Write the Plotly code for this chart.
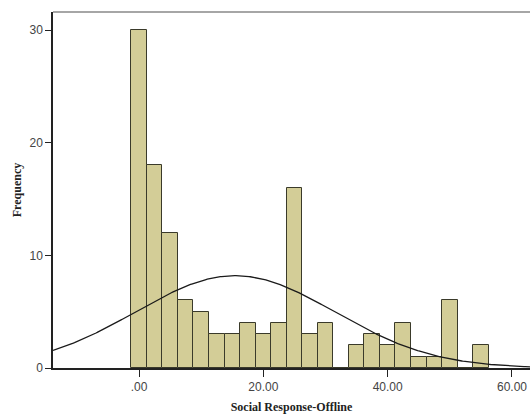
import numpy as np
import plotly.graph_objects as go

# Histogram bins (centers) and frequencies
bin_centers = [0, 2.5, 5, 7.5, 10, 12.5, 15, 17.5, 20, 22.5, 25, 27.5, 30,
               32.5, 35, 37.5, 40, 42.5, 45, 47.5, 50, 52.5, 55]
frequencies = [30, 18, 12, 6, 5, 3, 3, 4, 3, 4, 16, 3, 4,
               0, 2, 3, 2, 4, 1, 1, 6, 0, 2]
bin_width = 2.5

# Normal curve parameters
curve_mean = 15.45
curve_sd = 16.07
n_total = sum(frequencies)

x_ticks = [0, 20, 40, 60]
x_tick_labels = [".00", "20.00", "40.00", "60.00"]
y_ticks = [0, 10, 20, 30]

x_range = [-13.85, 62.9]
y_range = [0, 31.6]

xc = np.linspace(x_range[0], x_range[1], 400)
yc = n_total * bin_width / (curve_sd * np.sqrt(2 * np.pi)) * np.exp(-(xc - curve_mean) ** 2 / (2 * curve_sd ** 2))

fig = go.Figure()
fig.add_trace(go.Bar(
    x=bin_centers, y=frequencies, width=bin_width,
    marker=dict(color="#D3CD97", line=dict(color="#3A3A2A", width=1)),
    hoverinfo="x+y", showlegend=False,
))
fig.add_trace(go.Scatter(
    x=xc, y=yc, mode="lines", line=dict(color="#1a1a1a", width=1.3),
    showlegend=False, hoverinfo="skip", cliponaxis=True,
))

fig.update_layout(
    width=530, height=417,
    margin=dict(l=53, r=0, t=12, b=49),
    paper_bgcolor="white", plot_bgcolor="white",
    bargap=0,
    xaxis=dict(
        range=x_range, tickvals=x_ticks, ticktext=x_tick_labels, automargin=False,
        ticks="outside", ticklen=7, tickcolor="#222", tickwidth=1,
        showline=True, linecolor="#222", linewidth=1.5, showgrid=False, zeroline=False,
        tickfont=dict(family="Liberation Sans, Arial", size=12, color="#444"),
        title=dict(text="<b>Social Response-Offline</b>", standoff=9,
                   font=dict(family="Liberation Serif, Times New Roman", size=12, color="#222")),
    ),
    yaxis=dict(
        range=y_range, tickvals=y_ticks, automargin=False,
        ticks="outside", ticklen=6, tickcolor="#222", tickwidth=1,
        showline=True, linecolor="#222", linewidth=1.5, showgrid=False, zeroline=False,
        tickfont=dict(family="Liberation Sans, Arial", size=12, color="#444"),
        title=dict(text="<b>Frequency</b>", standoff=5,
                   font=dict(family="Liberation Serif, Times New Roman", size=12, color="#222")),
    ),
    shapes=[dict(type="line", xref="paper", yref="paper", x0=0, x1=1, y0=1, y1=1,
                 line=dict(color="#888", width=1.5))],
)

fig.write_html(
    "out.html",
    config={"displayModeBar": False},
    post_script="document.body.style.margin='0';document.body.style.overflow='hidden';",
)
